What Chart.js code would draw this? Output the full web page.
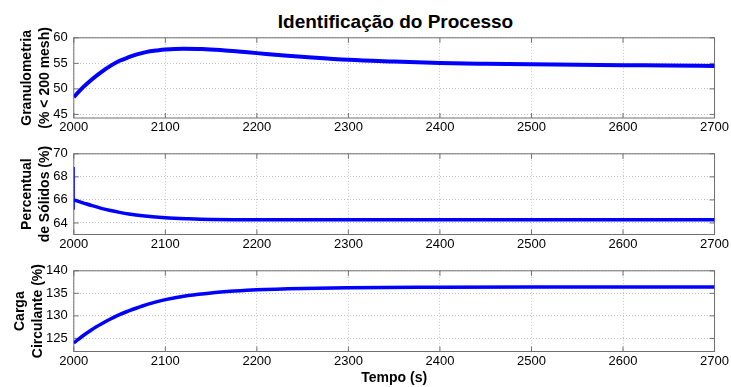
<!DOCTYPE html>
<html>
<head>
<meta charset="utf-8">
<script src="https://cdn.jsdelivr.net/npm/chart.js@4.4.0/dist/chart.umd.min.js"></script>
<style>
  body { margin: 0; background: #fff; }
  #wrap { position: relative; width: 731px; height: 387px; font-family: Arial, "Liberation Sans", sans-serif; }
  .box { position: absolute; left: 0; width: 731px; }
  #title { position: absolute; top: 12px; left: 74px; width: 643px; text-align: center;
           font-weight: bold; font-size: 19px; line-height: 19px; color: #000; }
</style>
</head>
<body>
<div id="wrap">
  <div id="title">Identificação do Processo</div>
  <div class="box" style="top:0;height:140px"><canvas id="c1"></canvas></div>
  <div class="box" style="top:140px;height:117px"><canvas id="c2"></canvas></div>
  <div class="box" style="top:257px;height:130px"><canvas id="c3"></canvas></div>
</div>
<script>
// x axis (time, s)
const xTicks = [2000, 2100, 2200, 2300, 2400, 2500, 2600, 2700];

// Granulometria (% < 200 mesh)
const tGran = [2000, 2010, 2020, 2030, 2040, 2050, 2060, 2070, 2080, 2090, 2100, 2120, 2140, 2160, 2180, 2200, 2230, 2260, 2300, 2350, 2400, 2450, 2500, 2550, 2600, 2650, 2700];
const gran  = [48.4, 50.3, 51.9, 53.3, 54.5, 55.5, 56.2, 56.8, 57.25, 57.5, 57.7, 57.85, 57.8, 57.6, 57.3, 57.0, 56.55, 56.15, 55.7, 55.35, 55.05, 54.9, 54.8, 54.72, 54.65, 54.6, 54.5];
const granTicks = [45, 50, 55, 60];

// Percentual de Sólidos (%)
const tSol = [2000, 2010, 2020, 2030, 2040, 2050, 2060, 2075, 2100, 2125, 2150, 2200, 2300, 2400, 2500, 2600, 2700];
const sol  = [66.0, 65.75, 65.5, 65.27, 65.08, 64.92, 64.78, 64.62, 64.46, 64.37, 64.31, 64.27, 64.27, 64.28, 64.28, 64.28, 64.28];
const spikeT = [2000, 2000];
const spikeSol = [65.15, 68.85];
const solTicks = [64, 66, 68, 70];

// Carga Circulante (%)
const tCarga = [2000, 2010, 2020, 2030, 2040, 2050, 2060, 2075, 2090, 2100, 2125, 2150, 2175, 2200, 2250, 2300, 2400, 2500, 2600, 2700];
const carga  = [124.0, 125.6, 127.0, 128.2, 129.3, 130.3, 131.1, 132.2, 133.1, 133.6, 134.5, 135.1, 135.5, 135.8, 136.1, 136.25, 136.35, 136.4, 136.4, 136.4];
const cargaTicks = [125, 130, 135, 140];

const FONT = 'Arial, "Liberation Sans", sans-serif';
Chart.defaults.color = '#000';
Chart.defaults.font.family = FONT;

function pts(ts, vs) {
    return ts.map((t, i) => ({ x: t, y: vs[i] }));
}

// matlab style box with inward ticks
const boxPlugin = {
    id: 'box',
    beforeDatasetsDraw(chart) {
        const { ctx, chartArea: a, scales } = chart;
        ctx.save();
        ctx.strokeStyle = '#707070';
        ctx.lineWidth = 1;
        ctx.strokeRect(a.left, a.top, a.width, a.height);
        ctx.beginPath();
        scales.x.ticks.forEach(t => {
            const px = scales.x.getPixelForValue(t.value);
            ctx.moveTo(px, a.bottom); ctx.lineTo(px, a.bottom - 5);
            ctx.moveTo(px, a.top); ctx.lineTo(px, a.top + 5);
        });
        scales.y.ticks.forEach(t => {
            const py = scales.y.getPixelForValue(t.value);
            ctx.moveTo(a.left, py); ctx.lineTo(a.left + 5, py);
            ctx.moveTo(a.right, py); ctx.lineTo(a.right - 5, py);
        });
        ctx.stroke();
        ctx.restore();
    }
};

function makeChart(id, datasets, yMin, yMax, yTicks, yTitle, lay) {
    const xScale = {
        type: 'linear', min: 2000, max: 2700,
        afterBuildTicks: s => { s.ticks = xTicks.map(v => ({ value: v })); },
        afterFit: s => { s.height = lay.xh; },
        grid: { color: '#c4c4c4', drawTicks: false },
        border: { display: false, dash: [1, 2] },
        ticks: { padding: 2, font: { size: 13 }, maxRotation: 0, callback: v => String(v) }
    };
    if (lay.xTitle) {
        xScale.title = { display: true, text: lay.xTitle, font: { size: 14, weight: 'bold' }, padding: { top: 0, bottom: 0 } };
    }
    return new Chart(document.getElementById(id), {
        type: 'line',
        data: { datasets: datasets },
        options: {
            responsive: true,
            maintainAspectRatio: false,
            animation: false,
            layout: { padding: { top: lay.top, right: 14.5, left: 0, bottom: 0 } },
            plugins: { legend: { display: false }, tooltip: { enabled: false } },
            elements: { point: { radius: 0 } },
            scales: {
                x: xScale,
                y: {
                    min: yMin, max: yMax,
                    afterBuildTicks: s => { s.ticks = yTicks.map(v => ({ value: v })); },
                    afterFit: s => { s.width = 73.8; },
                    grid: { color: '#c4c4c4', drawTicks: false },
                    border: { display: false, dash: [1, 2] },
                    ticks: { padding: 6, font: { size: 13 }, callback: v => String(v) },
                    title: {
                        display: true, text: yTitle,
                        font: { size: 14, weight: 'bold', lineHeight: 1.29 },
                        padding: { top: lay.tp, bottom: 0 }
                    }
                }
            }
        },
        plugins: [boxPlugin]
    });
}

function line(ts, vs, w) {
    return {
        data: pts(ts, vs),
        borderColor: '#0000ff',
        borderWidth: w,
        fill: false,
        cubicInterpolationMode: 'monotone'
    };
}

makeChart('c1', [line(tGran, gran, 4)], 44.3, 60, granTicks,
    ['Granulometria', '(% < 200 mesh)'], { top: 37.8, xh: 22, tp: 18 });

makeChart('c2', [line(tSol, sol, 3.5), line(spikeT, spikeSol, 2)], 63, 70, solTicks,
    ['Percentual', 'de Sólidos (%)'], { top: 12.7, xh: 22.5, tp: 18 });

makeChart('c3', [line(tCarga, carga, 3.5)], 122.1, 140, cargaTicks,
    ['Carga', 'Circulante (%)'], { top: 12, xh: 35.5, tp: 11, xTitle: 'Tempo (s)' });
</script>
</body>
</html>
